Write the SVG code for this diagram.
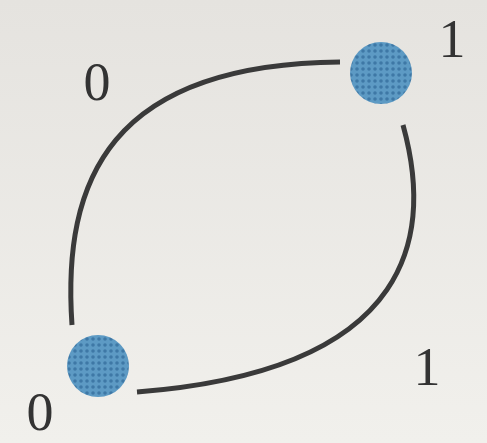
<svg xmlns="http://www.w3.org/2000/svg" width="487" height="443" viewBox="0 0 487 443">
<defs>
<linearGradient id="bg" x1="0" y1="0" x2="0" y2="1">
<stop offset="0" stop-color="#e5e3df"/>
<stop offset="1" stop-color="#f1f0ec"/>
</linearGradient>
<pattern id="dots" width="6" height="6" patternUnits="userSpaceOnUse">
<rect width="6" height="6" fill="#5d9ac4"/>
<circle cx="3" cy="3" r="1.8" fill="#3e78a6"/>
</pattern>
<style>
.edge{fill:none;stroke:#3a3a3a;stroke-width:5;stroke-linecap:butt}
.node{fill:url(#dots)}
.lbl{font-family:"Liberation Serif","DejaVu Serif",serif;font-size:54px;fill:#333}
</style>
</defs>
<rect width="487" height="443" fill="url(#bg)"/>
<g id="connectors">
<path class="edge" d="M72 325 C62 180 110 64 340 62"/>
<path class="edge" d="M403 125 C432 230 420 370 137 392"/>
</g>
<g id="node-top"><circle class="node" cx="381" cy="73" r="31"/></g>
<g id="node-bottom"><circle class="node" cx="98" cy="366" r="31"/></g>
<g id="labels">
<text class="lbl" x="97" y="100" text-anchor="middle">0</text>
<text class="lbl" x="452" y="57" text-anchor="middle">1</text>
<text class="lbl" x="427" y="385" text-anchor="middle">1</text>
<text class="lbl" x="40" y="430" text-anchor="middle">0</text>
</g>
</svg>
